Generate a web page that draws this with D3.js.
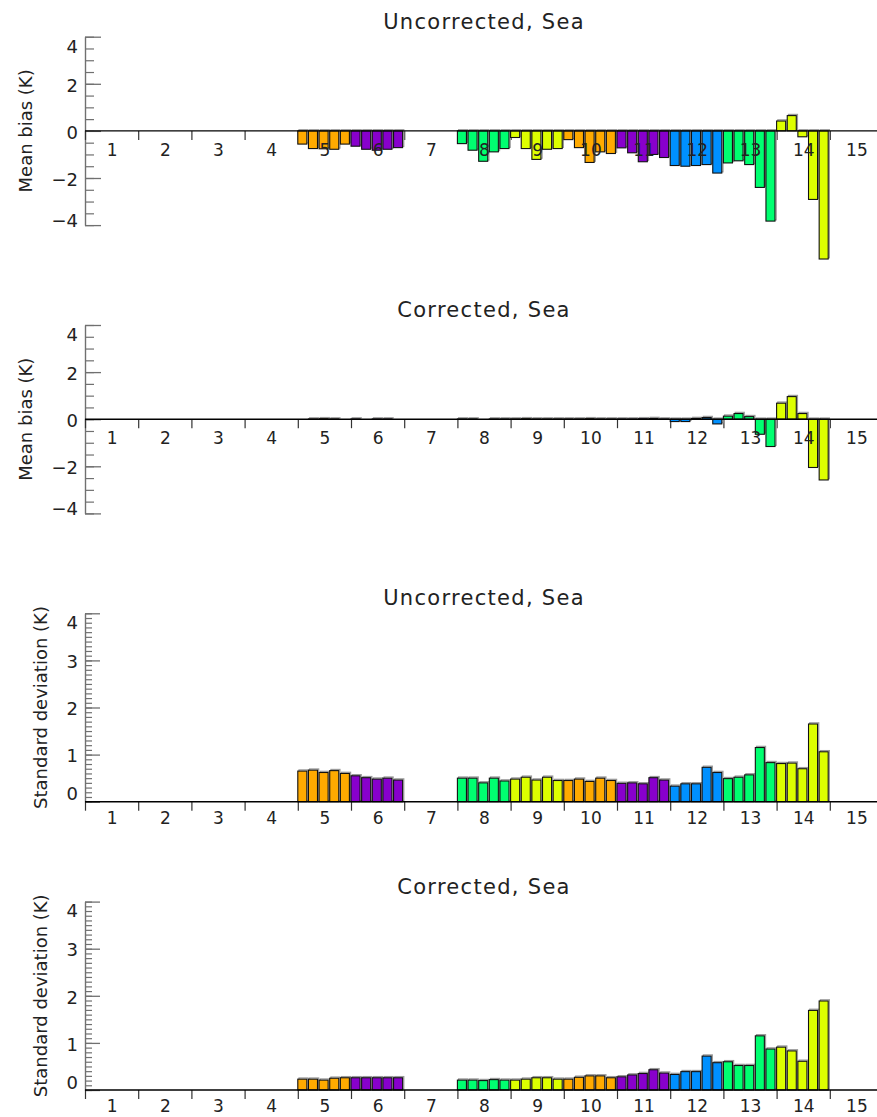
<!DOCTYPE html>
<html lang="en">
<head>
<meta charset="UTF-8">
<title>Mean bias and standard deviation, Sea</title>
<script src="https://cdn.jsdelivr.net/npm/d3@7"></script>
<style>
    body { margin: 0; background: #fff; }
    text { font-family: "DejaVu Sans", sans-serif; fill: #222; }
</style>
</head>
<body>
<svg id="chart" width="877" height="1117"></svg>

<script>
    // channels and the colour each one gets (cycles every 5)
    const channels = [1, 2, 3, 4, 5, 6, 7, 8, 9, 10, 11, 12, 13, 14, 15];
    const channelColors = ["#8800cc", "#0090ff", "#00ff70", "#ddff00", "#ffaa00",
                           "#8800cc", "#0090ff", "#00ff70", "#ddff00", "#ffaa00",
                           "#8800cc", "#0090ff", "#00ff70", "#ddff00", "#ffaa00"];

    // 5 bars per channel
    const biasUncorrected = [
        [0, 0, 0, 0, 0],
        [0, 0, 0, 0, 0],
        [0, 0, 0, 0, 0],
        [0, 0, 0, 0, 0],
        [-0.56, -0.75, -0.76, -0.78, -0.56],
        [-0.65, -0.78, -0.82, -0.78, -0.71],
        [0, 0, 0, 0, 0],
        [-0.54, -0.82, -1.29, -0.89, -0.75],
        [-0.28, -0.75, -1.21, -0.78, -0.75],
        [-0.37, -0.71, -1.34, -0.89, -0.96],
        [-0.72, -0.93, -1.31, -1.00, -1.13],
        [-1.47, -1.50, -1.47, -1.43, -1.79],
        [-1.36, -1.27, -1.43, -2.40, -3.83],
        [0.42, 0.65, -0.25, -2.91, -5.44],
        [0, 0, 0, 0, 0]
    ];

    const biasCorrected = [
        [0, 0, 0, 0, 0],
        [0, 0, 0, 0, 0],
        [0, 0, 0, 0, 0],
        [0, 0, 0, 0, 0],
        [0, 0.01, 0.02, 0.01, 0],
        [0.01, 0, 0.01, 0.01, 0],
        [0, 0, 0, 0, 0],
        [0.01, 0.01, 0, 0.01, 0.01],
        [0.01, 0.02, 0.01, 0.01, 0.01],
        [0.01, 0.01, 0.02, 0.01, 0.01],
        [0.01, 0.01, 0.02, 0.03, 0.01],
        [-0.10, -0.10, 0.03, 0.07, -0.20],
        [0.13, 0.24, 0.11, -0.64, -1.16],
        [0.68, 0.96, 0.24, -2.05, -2.58],
        [0, 0, 0, 0, 0]
    ];

    const stdUncorrected = [
        [0, 0, 0, 0, 0],
        [0, 0, 0, 0, 0],
        [0, 0, 0, 0, 0],
        [0, 0, 0, 0, 0],
        [0.65, 0.67, 0.62, 0.66, 0.60],
        [0.55, 0.51, 0.48, 0.50, 0.46],
        [0, 0, 0, 0, 0],
        [0.50, 0.50, 0.40, 0.50, 0.44],
        [0.48, 0.52, 0.46, 0.52, 0.45],
        [0.45, 0.48, 0.43, 0.50, 0.45],
        [0.39, 0.40, 0.38, 0.51, 0.46],
        [0.33, 0.38, 0.38, 0.73, 0.62],
        [0.49, 0.52, 0.57, 1.15, 0.83],
        [0.81, 0.82, 0.70, 1.65, 1.06],
        [0, 0, 0, 0, 0]
    ];

    const stdCorrected = [
        [0, 0, 0, 0, 0],
        [0, 0, 0, 0, 0],
        [0, 0, 0, 0, 0],
        [0, 0, 0, 0, 0],
        [0.23, 0.23, 0.21, 0.25, 0.26],
        [0.26, 0.26, 0.26, 0.26, 0.26],
        [0, 0, 0, 0, 0],
        [0.21, 0.21, 0.20, 0.22, 0.21],
        [0.21, 0.23, 0.26, 0.26, 0.23],
        [0.23, 0.27, 0.30, 0.30, 0.26],
        [0.28, 0.32, 0.35, 0.43, 0.36],
        [0.33, 0.39, 0.39, 0.72, 0.58],
        [0.60, 0.52, 0.52, 1.15, 0.87],
        [0.91, 0.83, 0.61, 1.69, 1.89],
        [0, 0, 0, 0, 0]
    ];

    const biasTicks = [-4, -2, 0, 2, 4];
    const stdTicks = [0, 1, 2, 3, 4];

    const panels = [
        { title: "Uncorrected, Sea", yTitle: "Mean bias (K)", values: biasUncorrected, kind: "bias" },
        { title: "Corrected, Sea", yTitle: "Mean bias (K)", values: biasCorrected, kind: "bias" },
        { title: "Uncorrected, Sea", yTitle: "Standard deviation (K)", values: stdUncorrected, kind: "std" },
        { title: "Corrected, Sea", yTitle: "Standard deviation (K)", values: stdCorrected, kind: "std" }
    ];
</script>

<script>
    let svg = d3.select("#chart");
    svg.append("rect").attr("width", 877).attr("height", 1117).attr("fill", "#fff");

    let x = d3.scaleLinear().domain([0.5, 15.5]).range([85, 883]);
    const slot = (x(1.5) - x(0.5)) / 5;
    const barWidth = slot * 0.85;
    const axisColor = "#707070";

    panels.forEach((p, k) => {
        let top = 36.7 + k * 288.3;
        let bottom = top + 188.4;
        let isBias = p.kind === "bias";
        let y = d3.scaleLinear().domain(isBias ? [-4, 4] : [0, 4]).range([bottom, top]);
        let majors = isBias ? biasTicks : stdTicks;
        let minorStep = isBias ? 0.5 : 0.1;
        let minors = d3.range(y.domain()[0], y.domain()[1] + 1e-6, minorStep);
        let g = svg.append("g");

        // y axis, ticks point inwards
        g.append("g")
            .attr("transform", "translate(85,0)")
            .call(d3.axisLeft(y).tickValues(minors).tickSize(isBias ? -9 : -7).tickSizeOuter(0).tickFormat(""))
            .call(a => a.select(".domain").remove())
            .call(a => a.selectAll("line").attr("stroke", axisColor).attr("stroke-width", 1.2));

        let yAxis = g.append("g")
            .attr("transform", "translate(85,0)")
            .call(d3.axisLeft(y).tickValues(majors).tickSize(isBias ? -16 : -15).tickSizeOuter(0)
                .tickPadding(7).tickFormat(d3.format("d")))
            .call(a => a.select(".domain").attr("stroke", axisColor).attr("stroke-width", 1.4))
            .call(a => a.selectAll("line").attr("stroke", axisColor).attr("stroke-width", 1.3));

        yAxis.selectAll("text")
            .attr("font-size", 18)
            .attr("font-family", "DejaVu Sans")
            .attr("fill", "#222")
            .attr("dy", d => {
                if (d === d3.max(majors)) return "0.85em";
                if (d === d3.min(majors)) return isBias ? "0.05em" : "-0.1em";
                return "0.4em";
            });

        // x ticks on channel boundaries, hanging from the zero line
        let y0 = y(0);
        g.append("g")
            .attr("transform", `translate(0,${y0})`)
            .call(d3.axisBottom(x).tickValues(d3.range(0.5, 15.6, 1)).tickSize(9).tickSizeOuter(0).tickFormat(""))
            .call(a => a.select(".domain").remove())
            .call(a => a.selectAll("line").attr("stroke", "#333").attr("stroke-width", 1.2));

        // bars
        let bars = [];
        channels.forEach((c, ci) => {
            p.values[ci].forEach((v, i) => bars.push({ c: c, i: i, v: v, color: channelColors[ci] }));
        });

        let barX = d => x(d.c - 0.5) + d.i * slot;
        let barY = d => Math.min(y(d.v), y0);
        let barH = d => Math.abs(y(d.v) - y0);

        g.append("g").selectAll("rect")
            .data(bars)
            .join("rect")
            .attr("x", d => barX(d) + 1.2)
            .attr("y", d => barY(d) - 1.2)
            .attr("width", barWidth)
            .attr("height", barH)
            .attr("fill", "none")
            .attr("stroke", "#9a9a9a")
            .attr("stroke-width", 1.2);

        g.append("g").selectAll("rect")
            .data(bars)
            .join("rect")
            .attr("x", barX)
            .attr("y", barY)
            .attr("width", barWidth)
            .attr("height", barH)
            .attr("fill", d => d.color)
            .attr("stroke", "#111")
            .attr("stroke-width", 1.1);

        // zero line
        g.append("line")
            .attr("x1", x(0.5)).attr("x2", x(15.5))
            .attr("y1", y0).attr("y2", y0)
            .attr("stroke", "#000")
            .attr("stroke-width", 1.4);

        // channel labels
        g.append("g")
            .attr("transform", `translate(0,${y0})`)
            .call(d3.axisBottom(x).tickValues(channels).tickSize(0).tickPadding(isBias ? 13 : 10))
            .call(a => a.select(".domain").remove())
            .call(a => a.selectAll("text")
                .attr("font-size", 17)
                .attr("font-family", "DejaVu Sans")
                .attr("fill", "#222"));

        // titles
        g.append("text")
            .attr("x", 484)
            .attr("y", top - 15)
            .attr("text-anchor", "middle")
            .attr("dominant-baseline", "central")
            .attr("font-size", 21)
            .attr("letter-spacing", 1.3)
            .text(p.title);

        g.append("text")
            .attr("transform", `translate(${isBias ? 25 : 40},${(top + bottom) / 2}) rotate(-90)`)
            .attr("text-anchor", "middle")
            .attr("dominant-baseline", "central")
            .attr("font-size", 18)
            .text(p.yTitle);
    });
</script>
</body>
</html>
